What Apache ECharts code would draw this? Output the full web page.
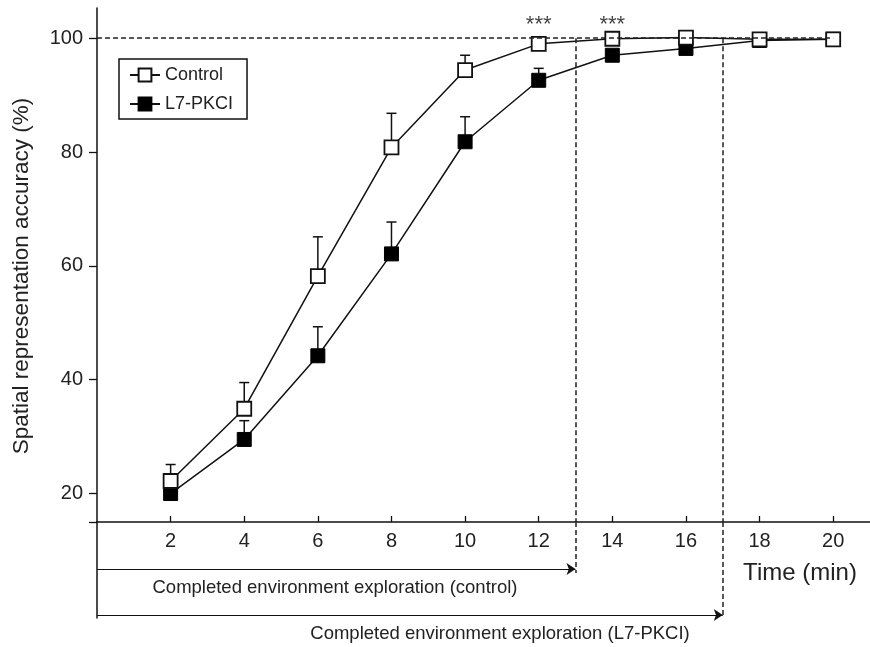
<!DOCTYPE html>
<html>
<head>
<meta charset="utf-8">
<script src="https://cdn.jsdelivr.net/npm/echarts@6/dist/echarts.min.js"></script>
<style>
  html, body { margin: 0; padding: 0; background: #fff; }
  #spatial-accuracy-chart { width: 870px; height: 647px; }
</style>
</head>
<body>
<div id="spatial-accuracy-chart"></div>
<script>
// values
const timePoints = [2, 4, 6, 8, 10, 12, 14, 16, 18, 20];
const controlMean = [22.2, 34.9, 58.2, 80.8, 94.4, 99.0, 99.9, 100.1, 99.8, 99.8];
const controlErr = [2.9, 4.6, 6.9, 6.0, 2.6, 0.5, 0, 0, 0, 0];
const pkciMean = [20.0, 29.5, 44.2, 62.1, 81.8, 92.6, 97.0, 98.2, 99.6, 99.8];
const pkciErr = [1.0, 3.3, 5.1, 5.6, 4.4, 2.1, 0.5, 0.3, 0, 0];
const yTicks = [20, 40, 60, 80, 100];
const xTicks = [2, 4, 6, 8, 10, 12, 14, 16, 18, 20];
const signifTimes = [12, 14];
const completionControl = 13;
const completionPkci = 17;

const FONT = '"Liberation Sans", Arial, Helvetica, sans-serif';
const TXT = '#222';

function pairs(xs, ys) {
  return xs.map((x, i) => [x, ys[i]]);
}

function errorBars(means, errs) {
  return {
    type: 'custom',
    xAxisIndex: 0,
    yAxisIndex: 0,
    z: 1,
    silent: true,
    data: timePoints.map((t, i) => [t, means[i], means[i] + errs[i]]),
    renderItem: function (params, api) {
      const base = api.coord([api.value(0), api.value(1)]);
      const top = api.coord([api.value(0), api.value(2)]);
      const st = { stroke: '#111', lineWidth: 1.5 };
      return {
        type: 'group',
        children: [
          { type: 'line', shape: { x1: base[0], y1: base[1], x2: top[0], y2: top[1] }, style: st },
          { type: 'line', shape: { x1: top[0] - 5, y1: top[1], x2: top[0] + 5, y2: top[1] }, style: st }
        ]
      };
    }
  };
}

const chart = echarts.init(document.getElementById('spatial-accuracy-chart'));

const option = {
  animation: false,
  textStyle: { fontFamily: FONT },
  grid: [
    { left: 97, right: 0, top: 8, bottom: 125, outerBoundsMode: 'none' },
    { left: 97, right: 0, top: 522, height: 96, outerBoundsMode: 'none' }
  ],
  legend: {
    data: ['Control', 'L7-PKCI'],
    orient: 'vertical',
    left: 119,
    top: 59,
    padding: [7, 14, 6, 10],
    itemWidth: 30,
    itemHeight: 16,
    itemGap: 11,
    borderColor: '#111',
    borderWidth: 1.5,
    borderRadius: 0,
    textStyle: { fontSize: 18, color: TXT, fontFamily: FONT }
  },
  xAxis: [
    {
      type: 'value',
      gridIndex: 0,
      min: 0,
      max: 21,
      splitLine: { show: false },
      axisLine: { onZero: false, lineStyle: { color: '#111', width: 1.5 } },
      axisTick: { inside: true, length: 6, customValues: xTicks, lineStyle: { color: '#111', width: 1.3 } },
      axisLabel: { customValues: xTicks, margin: 9, fontSize: 20, color: TXT }
    },
    {
      type: 'value',
      gridIndex: 1,
      min: 0,
      max: 21,
      show: false
    }
  ],
  yAxis: [
    {
      type: 'value',
      gridIndex: 0,
      min: 15,
      max: 105.3,
      splitLine: { show: false },
      axisLine: { show: true, lineStyle: { color: '#111', width: 1.5 } },
      axisTick: { show: true, length: 8, customValues: [15].concat(yTicks), lineStyle: { color: '#111', width: 1.3 } },
      axisLabel: { customValues: yTicks, margin: 14, fontSize: 20, color: TXT }
    },
    {
      type: 'value',
      gridIndex: 1,
      min: 0,
      max: 100,
      splitLine: { show: false },
      axisLine: { show: true, onZero: false, lineStyle: { color: '#111', width: 1.5 } },
      axisTick: { show: false },
      axisLabel: { show: false }
    }
  ],
  series: [
    // dashed guide lines
    {
      type: 'line',
      xAxisIndex: 0,
      yAxisIndex: 0,
      data: [],
      z: 0,
      silent: true,
      markLine: {
        silent: true,
        symbol: 'none',
        label: { show: false },
        lineStyle: { color: '#222', width: 1.5, type: [5, 3] },
        data: [
          [{ coord: [0, 100] }, { coord: [20, 100] }],
          [{ coord: [completionControl, 100] }, { coord: [completionControl, 15] }],
          [{ coord: [completionPkci, 100] }, { coord: [completionPkci, 15] }]
        ]
      }
    },
    {
      type: 'line',
      xAxisIndex: 1,
      yAxisIndex: 1,
      data: [],
      silent: true,
      markLine: {
        silent: true,
        symbol: 'none',
        label: { show: false },
        lineStyle: { color: '#222', width: 1.5, type: [5, 3] },
        data: [
          [{ coord: [completionControl, 100] }, { coord: [completionControl, 47] }],
          [{ coord: [completionPkci, 100] }, { coord: [completionPkci, 0] }]
        ]
      }
    },
    // exploration arrows
    {
      type: 'line',
      xAxisIndex: 1,
      yAxisIndex: 1,
      data: [],
      silent: true,
      markLine: {
        silent: true,
        symbol: ['none', 'arrow'],
        symbolSize: 9,
        label: { show: false },
        lineStyle: { color: '#111', width: 1.1, type: 'solid' },
        data: [
          [{ coord: [0, 51] }, { coord: [completionControl, 51] }],
          [{ coord: [0, 3] }, { coord: [completionPkci, 3] }]
        ]
      }
    },
    errorBars(pkciMean, pkciErr),
    errorBars(controlMean, controlErr),
    {
      name: 'L7-PKCI',
      type: 'line',
      xAxisIndex: 0,
      yAxisIndex: 0,
      z: 2,
      data: pairs(timePoints, pkciMean),
      symbol: 'rect',
      symbolSize: 14,
      lineStyle: { color: '#111', width: 1.5 },
      itemStyle: { color: '#000', borderColor: '#000', borderWidth: 1 }
    },
    {
      name: 'Control',
      type: 'line',
      xAxisIndex: 0,
      yAxisIndex: 0,
      z: 3,
      data: pairs(timePoints, controlMean),
      symbol: 'rect',
      symbolSize: 14,
      lineStyle: { color: '#111', width: 1.5 },
      itemStyle: { color: '#fff', borderColor: '#111', borderWidth: 1.8 }
    },
    // significance stars
    {
      type: 'scatter',
      xAxisIndex: 0,
      yAxisIndex: 0,
      silent: true,
      symbolSize: 0,
      data: signifTimes.map(t => [t, 102.4]),
      label: {
        show: true,
        position: 'inside',
        formatter: '***',
        fontSize: 22,
        color: '#111'
      }
    }
  ],
  graphic: [
    {
      type: 'text',
      x: 22,
      y: 276,
      rotation: Math.PI / 2,
      style: { text: 'Spatial representation accuracy (%)', fontSize: 22.5, fontFamily: FONT, fill: TXT, align: 'center', verticalAlign: 'middle' }
    },
    {
      type: 'text',
      x: 800,
      y: 573,
      style: { text: 'Time (min)', fontSize: 24, fontFamily: FONT, fill: TXT, align: 'center', verticalAlign: 'middle' }
    },
    {
      type: 'text',
      x: 335,
      y: 588,
      style: { text: 'Completed environment exploration (control)', fontSize: 18.5, fontFamily: FONT, fill: TXT, align: 'center', verticalAlign: 'middle' }
    },
    {
      type: 'text',
      x: 500,
      y: 634,
      style: { text: 'Completed environment exploration (L7-PKCI)', fontSize: 18.5, fontFamily: FONT, fill: TXT, align: 'center', verticalAlign: 'middle' }
    }
  ]
};

chart.setOption(option);
</script>
</body>
</html>
